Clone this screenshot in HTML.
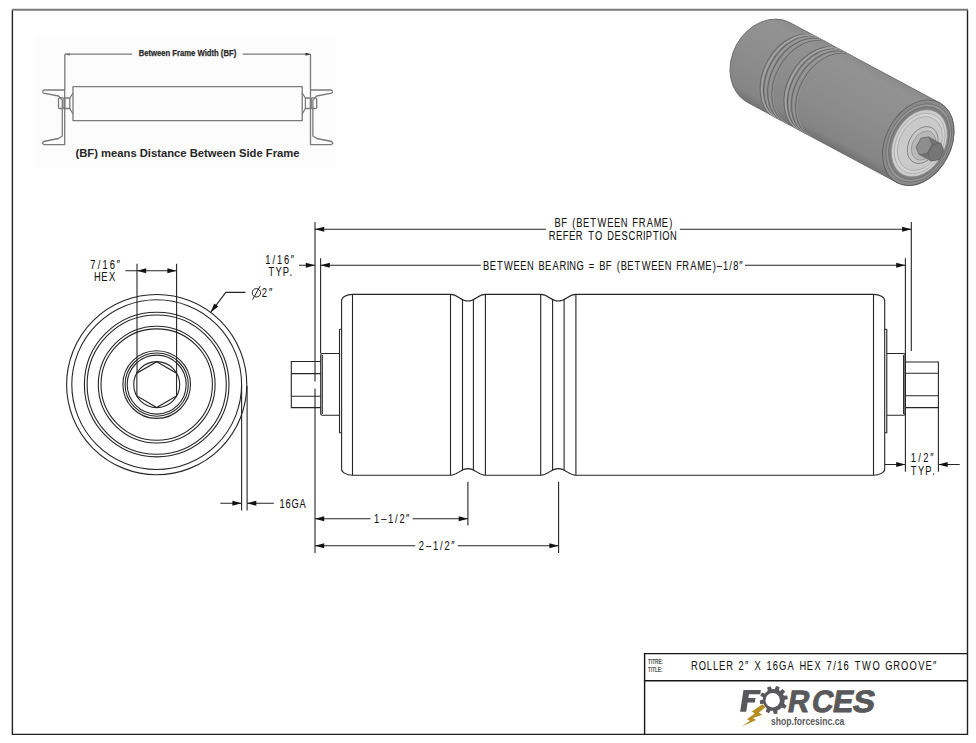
<!DOCTYPE html>
<html><head><meta charset="utf-8">
<style>
html,body{margin:0;padding:0;background:#fff;overflow:hidden;width:976px;height:743px;}
svg{display:block;}
text{font-family:"Liberation Sans",sans-serif;}
</style></head>
<body>
<svg width="976" height="743" viewBox="0 0 976 743">
<defs>
<linearGradient id="body3d" x1="0" y1="0" x2="0" y2="1">
<stop offset="0" stop-color="#8c8c8c"/>
<stop offset="0.1" stop-color="#929292"/>
<stop offset="0.5" stop-color="#8d8d8d"/>
<stop offset="0.9" stop-color="#858585"/>
<stop offset="1" stop-color="#727272"/>
</linearGradient>
</defs>
<rect width="976" height="743" fill="#fff"/>
<g fill="none" stroke="#161616" stroke-width="1.4">
<path d="M12.4,9.8 V734.4 H967.5 V9.8" stroke="#222"/>
<path d="M12,9.8 H968" stroke="#7a7a7a" stroke-width="2"/>
<path d="M644.6,734.3 V653.6 H967.5 M644.6,680.8 H967.5"/>
</g>
<g>
<rect x="35" y="36.5" width="301" height="131.5" fill="#fcfcfc"/>
<g fill="none" stroke="#7a7a7a" stroke-width="1.3" stroke-linejoin="round">
<path d="M64.8,54.2 H132 M242.7,54.2 H310.5 M64.8,54.2 V90 M310.5,54.2 V90"/>
<rect x="73" y="86.7" width="229.2" height="34"/>
<path d="M42.40,91.20 L44.00,90.00 L64.70,90.00 L64.70,144.60 L44.00,144.60 L42.40,143.40 L43.50,141.50 L58.50,138.50 L62.30,136.00 L62.30,100.00 L58.50,96.00 L43.50,93.20 L42.40,91.20"/>
<path d="M332.80,91.20 L331.20,90.00 L310.50,90.00 L310.50,144.60 L331.20,144.60 L332.80,143.40 L331.70,141.50 L316.70,138.50 L312.90,136.00 L312.90,100.00 L316.70,96.00 L331.70,93.20 L332.80,91.20"/>
<rect x="58.50" y="97.8" width="5.50" height="10.7" rx="1.2"/>
<rect x="64.70" y="98" width="5.10" height="10.5"/>
<path d="M69.80,98 L73.00,93 M69.80,108.5 L73.00,114"/>
<rect x="311.20" y="97.8" width="5.50" height="10.7" rx="1.2"/>
<rect x="305.40" y="98" width="5.10" height="10.5"/>
<path d="M305.40,98 L302.20,93 M305.40,108.5 L302.20,114"/>
</g>
<path d="M64.80,54.20 L69.80,52.70 L69.80,55.70 Z" fill="#7a7a7a" stroke="none"/>
<path d="M310.50,54.20 L305.50,55.70 L305.50,52.70 Z" fill="#333" stroke="none"/>
<text x="138.7" y="55.6" font-size="8.6" font-weight="bold" fill="#2a2a2a" text-anchor="start" textLength="97.5" lengthAdjust="spacingAndGlyphs" stroke="#2a2a2a" stroke-width="0.25">Between Frame Width (BF)</text>
<text x="75.5" y="156.6" font-size="11.8" font-weight="bold" fill="#262626" text-anchor="start" textLength="224" lengthAdjust="spacingAndGlyphs" >(BF) means Distance Between Side Frame</text>
</g>
<g transform="translate(918.3,142.7) rotate(28.2)">
<path d="M0,-45.2 L-169.5,-45.2 A37,45.2 0 0 0 -169.5,45.2 L0,45.2 A32.5,45.2 0 0 0 0,-45.2 Z" fill="url(#body3d)" stroke="#6a6a6a" stroke-width="0.8"/>
<path d="M-139.0,-45.2 A32.5,45.2 0 0 0 -139.0,45.2" fill="none" stroke="#666" stroke-width="0.9"/>
<path d="M-137.1,-45.2 A32.5,45.2 0 0 0 -137.1,45.2" fill="none" stroke="#a6a6a6" stroke-width="1.5"/>
<path d="M-134.9,-45.2 A32.5,45.2 0 0 0 -134.9,45.2" fill="none" stroke="#5e5e5e" stroke-width="0.9"/>
<path d="M-132.7,-45.2 A32.5,45.2 0 0 0 -132.7,45.2" fill="none" stroke="#9c9c9c" stroke-width="1.3"/>
<path d="M-130.5,-45.2 A32.5,45.2 0 0 0 -130.5,45.2" fill="none" stroke="#646464" stroke-width="0.9"/>
<path d="M-128.1,-45.2 A32.5,45.2 0 0 0 -128.1,45.2" fill="none" stroke="#9a9a9a" stroke-width="1.3"/>
<path d="M-125.7,-45.2 A32.5,45.2 0 0 0 -125.7,45.2" fill="none" stroke="#686868" stroke-width="0.9"/>
<path d="M-124.3,-45.2 A32.5,45.2 0 0 0 -124.3,45.2" fill="none" stroke="#959595" stroke-width="0.8"/>
<path d="M-112.0,-45.2 A32.5,45.2 0 0 0 -112.0,45.2" fill="none" stroke="#666" stroke-width="0.9"/>
<path d="M-110.1,-45.2 A32.5,45.2 0 0 0 -110.1,45.2" fill="none" stroke="#a6a6a6" stroke-width="1.5"/>
<path d="M-107.9,-45.2 A32.5,45.2 0 0 0 -107.9,45.2" fill="none" stroke="#5e5e5e" stroke-width="0.9"/>
<path d="M-105.7,-45.2 A32.5,45.2 0 0 0 -105.7,45.2" fill="none" stroke="#9c9c9c" stroke-width="1.3"/>
<path d="M-103.5,-45.2 A32.5,45.2 0 0 0 -103.5,45.2" fill="none" stroke="#646464" stroke-width="0.9"/>
<path d="M-101.1,-45.2 A32.5,45.2 0 0 0 -101.1,45.2" fill="none" stroke="#9a9a9a" stroke-width="1.3"/>
<path d="M-98.7,-45.2 A32.5,45.2 0 0 0 -98.7,45.2" fill="none" stroke="#686868" stroke-width="0.9"/>
<path d="M-97.3,-45.2 A32.5,45.2 0 0 0 -97.3,45.2" fill="none" stroke="#959595" stroke-width="0.8"/>
<ellipse cx="0" cy="0" rx="32.50" ry="45.2" fill="#8a8a8a" stroke="#5e5e5e" stroke-width="0.9"/>
<ellipse cx="0.5" cy="0" rx="29.84" ry="41.5" fill="#959595" stroke="#6a6a6a" stroke-width="0.7"/>
<ellipse cx="0.8" cy="0" rx="27.68" ry="38.5" fill="#7e7e7e" stroke="#666" stroke-width="0.6"/>
<ellipse cx="1.2" cy="0" rx="25.53" ry="35.5" fill="#cdcdcd" stroke="#8a8a8a" stroke-width="0.6"/>
<ellipse cx="1.5" cy="0" rx="23.01" ry="32" fill="#d4d4d4" stroke="#a0a0a0" stroke-width="0.6"/>
<ellipse cx="1.8" cy="0" rx="20.49" ry="28.5" fill="#cacaca" stroke="#9a9a9a" stroke-width="0.6"/>
<ellipse cx="5" cy="0" rx="14.02" ry="19.5" fill="#c8c8c8" stroke="#7a7a7a" stroke-width="0.8"/>
<ellipse cx="6" cy="0" rx="11.14" ry="15.5" fill="#b8b8b8" stroke="#888" stroke-width="0.6"/>
<path d="M12.85,5.10 L6.50,10.20 L20.00,10.20 L26.35,5.10 Z" fill="#727272" stroke="none"/>
<path d="M6.50,10.20 L0.15,5.10 L13.65,5.10 L20.00,10.20 Z" fill="#727272" stroke="none"/>
<path d="M0.15,5.10 L0.15,-5.10 L13.65,-5.10 L13.65,5.10 Z" fill="#727272" stroke="none"/>
<path d="M0.15,-5.10 L6.50,-10.20 L20.00,-10.20 L13.65,-5.10 Z" fill="#727272" stroke="none"/>
<path d="M6.50,-10.20 L12.85,-5.10 L26.35,-5.10 L20.00,-10.20 Z" fill="#727272" stroke="none"/>
<path d="M12.85,-5.10 L12.85,5.10 L26.35,5.10 L26.35,-5.10 Z" fill="#727272" stroke="none"/>
<path d="M26.35,5.10 L20.00,10.20 L13.65,5.10 L13.65,-5.10 L20.00,-10.20 L26.35,-5.10 Z" fill="#767676" stroke="#5a5a5a" stroke-width="0.5"/>
<path d="M12.85,5.10 L6.50,10.20 L0.15,5.10 L0.15,-5.10 L6.50,-10.20 L12.85,-5.10 Z" fill="#8e8e8e" stroke="#5a5a5a" stroke-width="0.5"/>
</g>
<g fill="none" stroke="#262626" stroke-width="1.1">
<circle cx="156.7" cy="384.6" r="90.1"/>
<circle cx="156.7" cy="384.6" r="84.9"/>
<circle cx="156.7" cy="384.6" r="72.3"/>
<circle cx="156.7" cy="384.6" r="69.6"/>
<circle cx="156.7" cy="384.6" r="58.4"/>
<circle cx="156.7" cy="384.6" r="55.7"/>
<circle cx="156.7" cy="384.6" r="33.8"/>
<circle cx="156.7" cy="384.6" r="31.6"/>
<circle cx="156.7" cy="384.6" r="29.5"/>
<circle cx="156.7" cy="384.6" r="23"/>
<path d="M156.70,361.70 L176.53,373.15 L176.53,396.05 L156.70,407.50 L136.87,396.05 L136.87,373.15 Z"/>
<path d="M137,263.8 V373 M176.6,263.8 V373"/>
<path d="M125.3,270.7 H176.6"/>
<path d="M241.6,386 V510.6 M247.1,386 V510.6"/>
<path d="M220.3,503.2 H241.6 M247.1,503.2 H273.8"/>
<path d="M245.5,292.4 H225.8 L210.7,312.3"/>
</g>
<path d="M137.00,270.70 L146.20,268.15 L146.20,273.25 Z" fill="#111" stroke="none"/>
<path d="M176.60,270.70 L167.40,273.25 L167.40,268.15 Z" fill="#111" stroke="none"/>
<path d="M241.60,503.20 L232.40,505.75 L232.40,500.65 Z" fill="#111" stroke="none"/>
<path d="M247.10,503.20 L256.30,500.65 L256.30,505.75 Z" fill="#111" stroke="none"/>
<path d="M210.70,312.30 L214.23,303.43 L218.29,306.51 Z" fill="#111" stroke="none"/>
<g fill="none" stroke="#262626" stroke-width="1.1">
<path d="M315,222 V381.4 M315,388.4 V553 M320.6,258.2 V353.5 M911.3,222 V351 M905.4,258.2 V471.7 M938.4,407.6 V471.7 M467.9,481.8 V525.6 M558.6,481.8 V553"/>
<path d="M315,229.3 H546 M679.8,229.3 H911.3"/>
<path d="M320.6,265.3 H480.8 M745,265.3 H905.4 M299,265.3 H315"/>
<path d="M315,518.7 H370.5 M412.6,518.7 H467.9"/>
<path d="M315,545.8 H415.3 M457.8,545.8 H558.6"/>
<path d="M885,464.5 H905.4 M938.4,464.5 H959.7"/>
<path d="M341.6,300.6 A10.9,6.2 0 0 1 352.5,294.4 H450.5 C458.35,294.40 460.10,301.00 467.95,301.00 C475.80,301.00 477.55,294.40 485.40,294.40 H540.7 C548.62,294.40 550.38,301.00 558.30,301.00 C566.22,301.00 567.98,294.40 575.90,294.40 H873.6 A11.1,6 0 0 1 884.7,300.4 V468.9 A11.1,6.3 0 0 1 873.6,475.2 H575.9 C567.98,475.20 566.22,468.60 558.30,468.60 C550.38,468.60 548.62,475.20 540.70,475.20 H485.4 C477.55,475.20 475.80,468.60 467.95,468.60 C460.10,468.60 458.35,475.20 450.50,475.20 H352.5 A10.9,6.3 0 0 1 341.6,468.9 Z"/>
<path d="M352.5,294.4 V475.2"/>
<path d="M873.5,294.4 V475.2"/>
<path d="M450.5,294.4 V475.2"/>
<path d="M485.4,294.4 V475.2"/>
<path d="M540.7,294.4 V475.2"/>
<path d="M575.9,294.4 V475.2"/>
<path d="M462.5,299.6 V470"/>
<path d="M473.4,299.6 V470"/>
<path d="M552.6,299.6 V470"/>
<path d="M564.1,299.6 V470"/>
<path d="M339.5,329.2 H341.6 M339.5,329.2 V432.7 H341.6"/>
<path d="M886.8,329.2 H884.7 M886.8,329.2 V432.7 H884.7"/>
<path d="M339.6,353.5 H322.3 Q320.7,353.5 320.7,355.2 V413.6 Q320.7,415.3 322.3,415.3 H339.6 M322.3,355 V414"/>
<path d="M886.7,353.5 H903.5 Q905.1,353.5 905.1,355.2 V413.6 Q905.1,415.3 903.5,415.3 H886.7 M903.6,355 V414"/>
<path d="M320.7,361.5 H291.3 V407.6 H320.7 M291.3,373.6 H320.7 M291.3,396.2 H320.7"/>
<path d="M905.4,362 H938.4 V407.6 H905.4 M905.4,373.3 H938.4 M905.4,395.8 H938.4"/>
</g>
<path d="M315.00,229.30 L324.20,226.75 L324.20,231.85 Z" fill="#111" stroke="none"/>
<path d="M911.30,229.30 L902.10,231.85 L902.10,226.75 Z" fill="#111" stroke="none"/>
<path d="M320.60,265.30 L329.80,262.75 L329.80,267.85 Z" fill="#111" stroke="none"/>
<path d="M905.40,265.30 L896.20,267.85 L896.20,262.75 Z" fill="#111" stroke="none"/>
<path d="M315.00,265.30 L305.80,267.85 L305.80,262.75 Z" fill="#111" stroke="none"/>
<path d="M315.00,518.70 L324.20,516.15 L324.20,521.25 Z" fill="#111" stroke="none"/>
<path d="M467.90,518.70 L458.70,521.25 L458.70,516.15 Z" fill="#111" stroke="none"/>
<path d="M315.00,545.80 L324.20,543.25 L324.20,548.35 Z" fill="#111" stroke="none"/>
<path d="M558.60,545.80 L549.40,548.35 L549.40,543.25 Z" fill="#111" stroke="none"/>
<path d="M905.40,464.50 L896.20,467.05 L896.20,461.95 Z" fill="#111" stroke="none"/>
<path d="M938.40,464.50 L947.60,461.95 L947.60,467.05 Z" fill="#111" stroke="none"/>
<text transform="translate(555.3,227.4) scale(0.74,1)" x="-1.03 8.01 22.97 28.40 37.44 47.36 57.05 70.20 79.36 88.53 104.12 112.62 123.44 133.13 143.89 154.02" y="0" font-size="12.6" font-weight="normal" fill="#141414" stroke="#141414" stroke-width="0.1" >BF(BETWEENFRAME)</text>
<text transform="translate(549.5,239.6) scale(0.74,1)" x="-1.03 8.75 17.89 26.35 35.48 52.24 61.35 78.04 87.81 97.40 106.89 116.78 126.44 130.05 139.81 148.36 152.41 162.87" y="0" font-size="12.6" font-weight="normal" fill="#141414" stroke="#141414" stroke-width="0.1" >REFERTODESCRIPTION</text>
<text transform="translate(483.8,269.5) scale(0.74,1)" x="-1.03 7.89 17.69 27.26 40.30 49.34 58.39 73.87 82.79 92.85 102.41 111.98 115.51 125.16 141.84 155.98 164.91 179.75 185.06 193.98 203.78 213.35 226.39 235.44 244.48 259.96 268.34 279.04 288.61 299.26 309.26 314.90 323.16 331.77 336.94 345.10" y="0" font-size="12.6" font-weight="normal" fill="#141414" stroke="#141414" stroke-width="0.1" >BETWEENBEARING=BF(BETWEENFRAME)–1/8″</text>
<text transform="translate(266,263.7) scale(0.74,1)" x="-0.96 8.92 14.95 24.19 33.61" y="0" font-size="12.6" font-weight="normal" fill="#141414" stroke="#141414" stroke-width="0.1" >1/16″</text>
<text transform="translate(268.7,276.1) scale(0.74,1)" x="-0.28 9.36 18.96 28.06" y="0" font-size="12.6" font-weight="normal" fill="#141414" stroke="#141414" stroke-width="0.1" >TYP.</text>
<text transform="translate(911.5,462.4) scale(0.74,1)" x="-0.96 9.22 15.87 25.50" y="0" font-size="12.6" font-weight="normal" fill="#141414" stroke="#141414" stroke-width="0.1" >1/2″</text>
<text transform="translate(910.9,475.1) scale(0.74,1)" x="-0.28 9.58 19.41 28.73" y="0" font-size="12.6" font-weight="normal" fill="#141414" stroke="#141414" stroke-width="0.1" >TYP.</text>
<text transform="translate(90.8,268.7) scale(0.74,1)" x="-0.65 9.55 15.91 25.48 35.23" y="0" font-size="12.6" font-weight="normal" fill="#141414" stroke="#141414" stroke-width="0.1" >7/16″</text>
<text transform="translate(94.8,281.4) scale(0.74,1)" x="-1.03 8.79 19.16" y="0" font-size="12.6" font-weight="normal" fill="#141414" stroke="#141414" stroke-width="0.1" >HEX</text>
<circle cx="256.4" cy="292.8" r="4.2" fill="none" stroke="#222" stroke-width="1"/><path d="M252.6,299.6 L260.2,286" stroke="#222" stroke-width="1"/>
<text transform="translate(262.2,297) scale(0.74,1)" x="-0.63 9.29" y="0" font-size="12.6" font-weight="normal" fill="#141414" stroke="#141414" stroke-width="0.1" >2″</text>
<text transform="translate(280.2,507.5) scale(0.74,1)" x="-0.96 7.05 15.12 26.22" y="0" font-size="12.6" font-weight="normal" fill="#141414" stroke="#141414" stroke-width="0.1" >16GA</text>
<text transform="translate(374.8,523.1) scale(0.74,1)" x="-0.96 8.57 17.74 27.27 33.27 42.26" y="0" font-size="12.6" font-weight="normal" fill="#141414" stroke="#141414" stroke-width="0.1" >1–1/2″</text>
<text transform="translate(419.3,550.4) scale(0.74,1)" x="-0.63 9.03 18.36 28.04 34.20 43.34" y="0" font-size="12.6" font-weight="normal" fill="#141414" stroke="#141414" stroke-width="0.1" >2–1/2″</text>
<text transform="translate(691.7,669.8) scale(0.74,1)" x="-1.03 9.60 20.48 28.76 37.03 46.58 63.39 71.96 84.84 100.95 109.42 117.96 129.51 145.79 155.55 165.84 182.27 191.36 196.62 205.09 220.19 230.26 244.23 261.73 272.27 282.91 294.23 306.09 316.12 326.18" y="0" font-size="12.6" font-weight="normal" fill="#141414" stroke="#141414" stroke-width="0.1" >ROLLER2″X16GAHEX7/16TWOGROOVE″</text>
<text x="648" y="663.8" font-size="7.2" font-weight="normal" fill="#2a2a2a" text-anchor="start" textLength="15" lengthAdjust="spacingAndGlyphs" stroke="#2a2a2a" stroke-width="0.2">TITRE:</text>
<text x="648" y="672.3" font-size="7.2" font-weight="normal" fill="#2a2a2a" text-anchor="start" textLength="14.2" lengthAdjust="spacingAndGlyphs" stroke="#2a2a2a" stroke-width="0.2">TITLE:</text>
<g>
<path d="M743.51,690.10 L760.91,690.10 L760.25,694.30 L748.95,694.30 L748.35,698.10 L755.55,698.10 L754.84,702.60 L747.64,702.60 L746.20,711.80 L740.10,711.80 Z" fill="#59595b"/>
<text transform="translate(786.5,711.6) skewX(-10)" x="0" y="0" font-size="31" font-weight="bold" fill="#59595b" stroke="#59595b" stroke-width="0.9" textLength="21.5" lengthAdjust="spacingAndGlyphs">R</text>
<text transform="translate(810.5,711.6) skewX(-10)" x="0" y="0" font-size="31" font-weight="bold" fill="#59595b" stroke="#59595b" stroke-width="0.9" textLength="21.5" lengthAdjust="spacingAndGlyphs">C</text>
<text transform="translate(831.5,711.6) skewX(-10)" x="0" y="0" font-size="31" font-weight="bold" fill="#59595b" stroke="#59595b" stroke-width="0.9" textLength="20.5" lengthAdjust="spacingAndGlyphs">E</text>
<text transform="translate(851.5,711.6) skewX(-10)" x="0" y="0" font-size="31" font-weight="bold" fill="#59595b" stroke="#59595b" stroke-width="0.9" textLength="22" lengthAdjust="spacingAndGlyphs">S</text>
<circle cx="773.8" cy="700.0" r="10.9" fill="#59595b"/>
<path d="M778.73,691.56 L779.55,687.11 L776.10,686.07 L774.33,690.24 Z" fill="#59595b"/>
<path d="M782.26,695.11 L785.18,691.65 L782.69,689.04 L779.09,691.78 Z" fill="#59595b"/>
<path d="M783.57,700.35 L787.88,698.95 L787.15,695.43 L782.64,695.84 Z" fill="#59595b"/>
<path d="M780.71,706.92 L784.81,708.84 L786.69,705.76 L783.11,702.99 Z" fill="#59595b"/>
<path d="M772.78,709.72 L773.87,714.12 L777.44,713.64 L777.34,709.11 Z" fill="#59595b"/>
<path d="M767.33,707.33 L765.68,711.54 L768.86,713.22 L771.40,709.48 Z" fill="#59595b"/>
<path d="M764.06,699.23 L759.69,700.43 L760.26,703.99 L764.78,703.77 Z" fill="#59595b"/>
<path d="M766.12,693.96 L761.82,692.54 L760.32,695.82 L764.20,698.14 Z" fill="#59595b"/>
<path d="M772.51,690.31 L770.42,686.30 L767.06,687.60 L768.22,691.97 Z" fill="#59595b"/>
<ellipse cx="772.7" cy="700.2" rx="7.2" ry="7.3" fill="#fff"/>
<path d="M762.44,704.17 L751.83,711.45 L754.85,713.53 L746.94,719.14 L750.06,720.81 L741.43,726.42 L756.20,719.98 L752.87,718.10 L762.23,714.78 L758.80,712.59 L765.56,707.29 Z" fill="#b58e1e"/>
<text x="771" y="724.7" font-size="10" font-weight="bold" fill="#5c5c5c" textLength="73.3" lengthAdjust="spacingAndGlyphs">shop.forcesinc.ca</text>
</g>
</svg>
</body></html>
